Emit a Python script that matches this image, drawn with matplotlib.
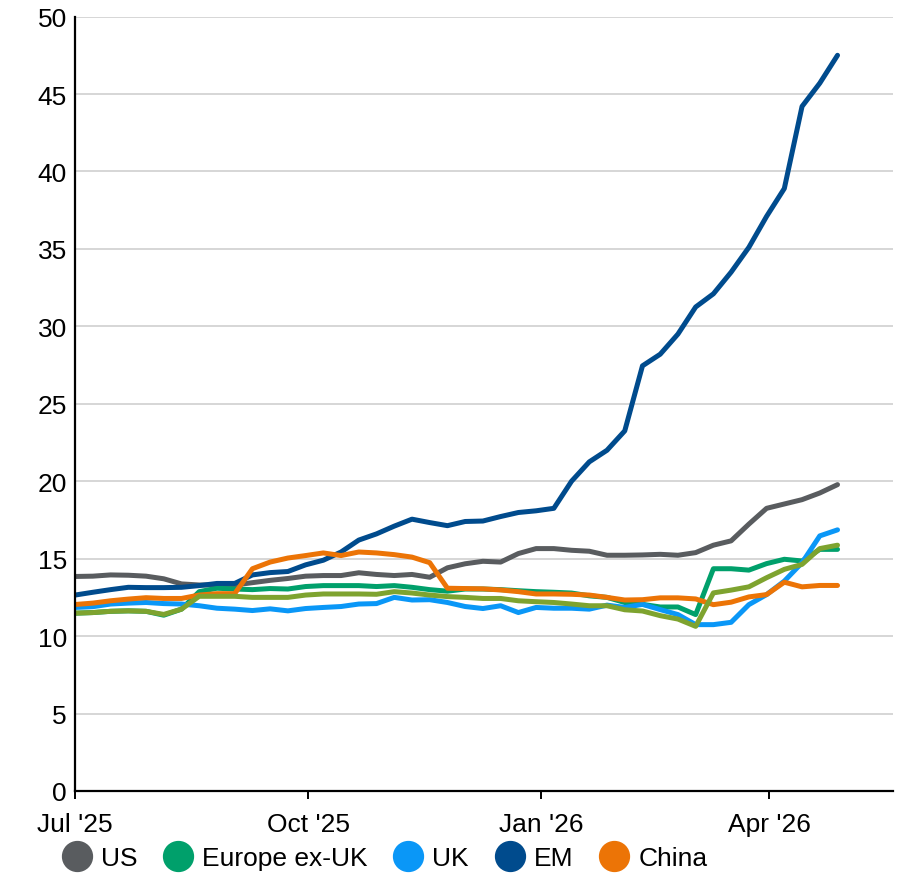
import pandas as pd
import matplotlib.pyplot as plt
import matplotlib.dates as mdates
from matplotlib.lines import Line2D

plt.rcParams['font.family'] = ['Liberation Sans', 'DejaVu Sans']

# weekly observations, Jul 2025 - Apr 2026
dates = pd.date_range('2025-07-01', periods=44, freq='7D')

us = [13.85, 13.87, 13.95, 13.93, 13.87, 13.7, 13.37, 13.3, 13.3, 13.3, 13.45, 13.6,
      13.72, 13.87, 13.91, 13.91, 14.09, 13.98, 13.91, 13.98, 13.8, 14.41, 14.67, 14.83,
      14.78, 15.33, 15.65, 15.65, 15.54, 15.48, 15.22, 15.22, 15.24, 15.28, 15.22, 15.39,
      15.87, 16.15, 17.23, 18.25, 18.53, 18.81, 19.24, 19.78]
europe = [11.48, 11.52, 11.6, 11.63, 11.6, 11.35, 11.74, 12.87, 13.09, 13.04, 13.0, 13.07,
          13.04, 13.2, 13.26, 13.26, 13.26, 13.2, 13.26, 13.15, 13.0, 12.9, 13.04, 13.04,
          13.0, 12.93, 12.87, 12.83, 12.78, 12.6, 12.5, 12.17, 12.05, 11.88, 11.88, 11.39,
          14.35, 14.35, 14.26, 14.68, 14.96, 14.85, 15.6, 15.6]
uk = [11.85, 11.9, 12.07, 12.13, 12.17, 12.1, 12.07, 11.96, 11.8, 11.74, 11.65, 11.76,
      11.63, 11.78, 11.85, 11.91, 12.07, 12.1, 12.5, 12.33, 12.35, 12.17, 11.91, 11.78,
      11.96, 11.52, 11.85, 11.8, 11.8, 11.74, 12.0, 11.85, 12.05, 11.71, 11.39, 10.74,
      10.74, 10.89, 12.03, 12.68, 13.55, 14.74, 16.47, 16.86]
em = [12.65, 12.83, 13.0, 13.15, 13.13, 13.13, 13.15, 13.26, 13.4, 13.4, 13.95, 14.1,
      14.17, 14.6, 14.9, 15.43, 16.2, 16.6, 17.1, 17.55, 17.33, 17.13, 17.4, 17.43,
      17.72, 17.98, 18.09, 18.25, 20.0, 21.25, 22.0, 23.25, 27.45, 28.2, 29.5, 31.25,
      32.1, 33.5, 35.1, 37.1, 38.9, 44.2, 45.7, 47.5]
china = [12.04, 12.13, 12.28, 12.39, 12.48, 12.43, 12.43, 12.65, 12.74, 12.74, 14.35, 14.78,
         15.04, 15.2, 15.37, 15.2, 15.43, 15.37, 15.26, 15.1, 14.74, 13.09, 13.07, 13.05,
         12.98, 12.87, 12.72, 12.72, 12.7, 12.65, 12.5, 12.33, 12.35, 12.47, 12.47, 12.4,
         12.03, 12.19, 12.53, 12.68, 13.48, 13.18, 13.27, 13.27]
other = [11.48, 11.52, 11.6, 11.63, 11.6, 11.4, 11.74, 12.57, 12.57, 12.57, 12.5, 12.5,
         12.5, 12.65, 12.72, 12.72, 12.72, 12.7, 12.87, 12.78, 12.65, 12.55, 12.5, 12.43,
         12.43, 12.28, 12.22, 12.17, 12.07, 11.96, 11.96, 11.7, 11.62, 11.32, 11.1, 10.63,
         12.79, 12.97, 13.18, 13.77, 14.31, 14.63, 15.65, 15.87]

names = ['US', 'Europe ex-UK', 'UK', 'EM', 'China']
series = [us, europe, uk, em, china]
colors = ['#595c5f', '#00a06b', '#0a97f7', '#004b8d', '#ec7406']

fig = plt.figure(figsize=(9.05, 8.79), dpi=100)
ax = fig.add_axes([0.083, 0.099, 0.904, 0.881])

for vals, c in zip(series, colors):
    ax.plot(dates, vals, color=c, lw=3.6, solid_capstyle='round', solid_joinstyle='round')
ax.plot(dates, other, color='#7ea32f', lw=3.6, solid_capstyle='round', solid_joinstyle='round')

ax.set_ylim(0, 50)
ax.set_yticks(range(0, 51, 5))
ax.set_xlim(pd.Timestamp('2025-07-01'), pd.Timestamp('2026-05-20'))
ax.xaxis.set_major_locator(mdates.MonthLocator(bymonth=[1, 4, 7, 10]))
ax.xaxis.set_major_formatter(mdates.DateFormatter("%b '%y"))

ax.grid(axis='y', color='#d0d0d0', lw=1.2)
ax.set_axisbelow(True)
for s in ['top', 'right']:
    ax.spines[s].set_visible(False)
ax.spines['left'].set_linewidth(1.6)
ax.spines['bottom'].set_linewidth(1.6)
ax.tick_params(axis='y', length=0, pad=6, labelsize=19)
ax.tick_params(axis='x', length=6, width=1.4, pad=9, labelsize=19)

handles = [Line2D([], [], ls='none', marker='o', markersize=21.5, color=c) for c in colors]
fig.legend(handles, names, loc='center left', bbox_to_anchor=(0.068, 0.0224), ncol=5,
           frameon=False, fontsize=19, handlelength=1.14, handletextpad=0.34,
           columnspacing=0.98, borderpad=0, borderaxespad=0)

fig.savefig('out.png', dpi=100)
